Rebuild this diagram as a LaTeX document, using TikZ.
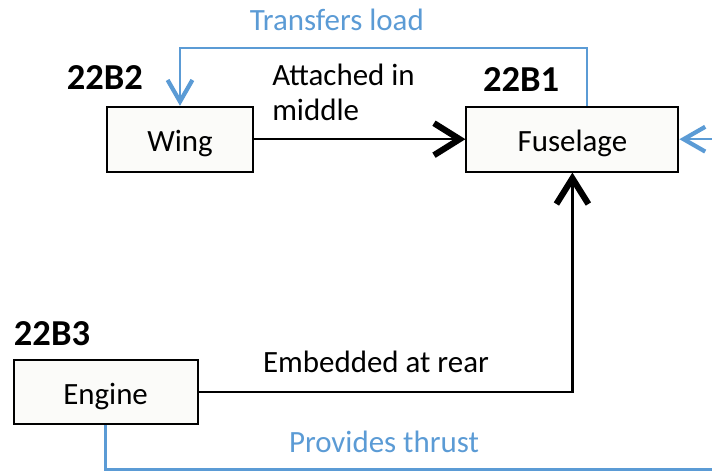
\documentclass[tikz,border=0pt]{standalone}
\usepackage{fontspec}
\setmainfont{Carlito}
\usetikzlibrary{arrows.meta}
\definecolor{linkblue}{RGB}{91,155,213}
\definecolor{boxfill}{RGB}{251,251,249}
\tikzset{
	part/.style={draw=black, fill=boxfill, line width=1.4pt, minimum height=1.62cm, inner sep=0pt, text height=0.6cm, text depth=0cm},
	tag/.style={font=\fontsize{26}{28}\selectfont\bfseries, inner sep=0pt},
	blacklink/.style={line width=1.6pt, -{Straight Barb[length=0.64cm, width=0.8cm, line width=4.4pt]}},
	bluelink/.style={line width=1.6pt, color=linkblue, -{Straight Barb[length=0.54cm, width=0.62cm, line width=3pt]}}
}

\begin{document}
\begin{tikzpicture}[font=\fontsize{22}{25}\selectfont]
		%%%%% START %%%%%
		\useasboundingbox (0, 0) rectangle (17.8, 11.8);
		\clip (0, 0) rectangle (17.8, 11.8);
		
		\node[part, minimum width=3.65cm] (wing) at (4.5, 8.32) {Wing};
		\node[part, minimum width=5.3cm] (fuselage) at (14.31, 8.32) {Fuselage};
		\node[part, minimum width=4.6cm] (engine) at (2.64, 2.0) {Engine};
		
		\node[tag] (wingtag) at (2.62, 9.85) {22B2};
		\node[tag] (fuselagetag) at (13.03, 9.8) {22B1};
		\node[tag] (enginetag) at (1.3, 3.47) {22B3};
		
		\draw[blacklink] (wing.east) -- (fuselage.west);
		\node[align=left, anchor=west, inner sep=0pt] (attached) at (6.8, 9.49) {Attached in\\middle};
		
		\draw[blacklink] (engine.east) -| (fuselage.south);
		\node[inner sep=0pt] (embedded) at (9.4, 2.75) {Embedded at rear};
		
		\draw[bluelink] ([xshift=0.36cm]fuselage.north) -- ++(0, 1.45) -| (wing.north);
		\node[color=linkblue, inner sep=0pt] (transfers) at (8.42, 11.3) {Transfers load};
		
		\coordinate (farcorner) at (18.2, 0.06);
		\draw[bluelink] (engine.south) |- (farcorner) |- (fuselage.east);
		\node[color=linkblue, inner sep=0pt] (thrust) at (9.6, 0.75) {Provides thrust};
		
		%%%%% END %%%%%
	\end{tikzpicture}
\end{document}
